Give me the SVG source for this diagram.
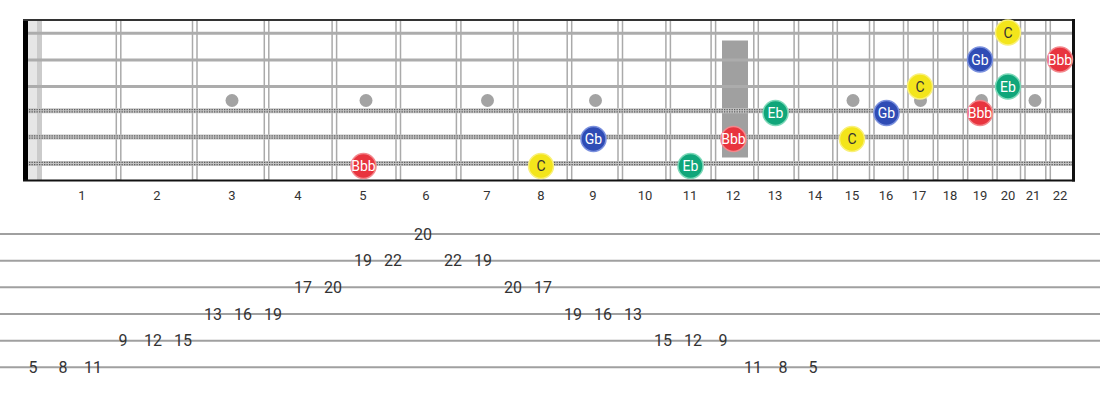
<svg xmlns="http://www.w3.org/2000/svg" width="1100" height="400" viewBox="0 0 1100 400">
<style>
.fret{fill:#fff;stroke:#aaaaaa;stroke-width:1.5}
.dot{fill:#a3a3a3}
.plain{stroke:#acacac;stroke-width:3}
.wbase{stroke:#c4c4c4;stroke-width:5}
.wtex{stroke:#5e5e5e;stroke-width:1.3;stroke-dasharray:1.3 1.2}
.fnum{font-family:Roboto,"Liberation Sans",sans-serif;font-size:13px;fill:#333;text-anchor:middle}
.tabline{stroke:#a0a0a0;stroke-width:2}
.tab{font-family:Roboto,"Liberation Sans",sans-serif;font-size:16px;fill:#333;text-anchor:middle}
.nt{font-family:Roboto,"Liberation Sans",sans-serif;font-size:14px;text-anchor:middle;fill:#fff}
.nt.dk{fill:#333}
.bbb{fill:#e8343e;stroke:#f3888d;stroke-width:1.5}
.gb{fill:#2f4cb5;stroke:#7b91de;stroke-width:1.5}
.eb{fill:#10a67a;stroke:#7cd8b8;stroke-width:1.5}
.c{fill:#f3e51b;stroke:#f9f07a;stroke-width:1.5}
</style>
<rect width="1100" height="400" fill="#fff"/>
<g id="fretboard">
  <rect x="28" y="20" width="9" height="160" fill="#e6e6e6"/>
  <rect x="37" y="20" width="5" height="160" fill="#cbcbcb"/>
  <g id="frets">
    <rect class="fret" x="116.3" y="20" width="4.5" height="160"/>
    <rect class="fret" x="192.5" y="20" width="4.5" height="160"/>
    <rect class="fret" x="264.3" y="20" width="4.5" height="160"/>
    <rect class="fret" x="332.1" y="20" width="4.5" height="160"/>
    <rect class="fret" x="396" y="20" width="4.5" height="160"/>
    <rect class="fret" x="456.4" y="20" width="4.5" height="160"/>
    <rect class="fret" x="513.4" y="20" width="4.5" height="160"/>
    <rect class="fret" x="567.2" y="20" width="4.5" height="160"/>
    <rect class="fret" x="618" y="20" width="4.5" height="160"/>
    <rect class="fret" x="665.9" y="20" width="4.5" height="160"/>
    <rect class="fret" x="711.1" y="20" width="4.5" height="160"/>
    <rect class="fret" x="753.8" y="20" width="4.5" height="160"/>
    <rect class="fret" x="794.1" y="20" width="4.5" height="160"/>
    <rect class="fret" x="832.8" y="20" width="4.5" height="160"/>
    <rect class="fret" x="869.5" y="20" width="4.5" height="160"/>
    <rect class="fret" x="903.5" y="20" width="4.5" height="160"/>
    <rect class="fret" x="933.3" y="20" width="4.5" height="160"/>
    <rect class="fret" x="963.2" y="20" width="4.5" height="160"/>
    <rect class="fret" x="992.6" y="20" width="4.5" height="160"/>
    <rect class="fret" x="1020.5" y="20" width="4.5" height="160"/>
    <rect class="fret" x="1045.8" y="20" width="4.5" height="160"/>
  </g>
  <g id="inlays">
    <circle class="dot" cx="232" cy="100.5" r="6.5"/>
    <circle class="dot" cx="366" cy="100.5" r="6.5"/>
    <circle class="dot" cx="487.5" cy="100.5" r="6.5"/>
    <circle class="dot" cx="595.5" cy="100.5" r="6.5"/>
    <rect x="722" y="40.5" width="26" height="117" fill="#a0a0a0"/>
    <circle class="dot" cx="853" cy="100.5" r="6.5"/>
    <circle class="dot" cx="920.5" cy="100.5" r="6.5"/>
    <circle class="dot" cx="981.5" cy="100.5" r="6.5"/>
    <circle class="dot" cx="1035" cy="100.5" r="6.5"/>
  </g>
  <g id="strings">
    <line class="plain" x1="24" y1="33.3" x2="1073" y2="33.3"/>
    <line class="plain" x1="24" y1="60" x2="1073" y2="60"/>
    <line class="plain" x1="24" y1="86.5" x2="1073" y2="86.5"/>
    <line class="wbase" x1="24" y1="110.7" x2="1073" y2="110.7"/>
    <line class="wtex" x1="24" y1="109.6" x2="1073" y2="109.6"/>
    <line class="wtex" x1="24" y1="111.9" x2="1073" y2="111.9"/>
    <line class="wbase" x1="24" y1="137" x2="1073" y2="137"/>
    <line class="wtex" x1="24" y1="135.9" x2="1073" y2="135.9"/>
    <line class="wtex" x1="24" y1="138.2" x2="1073" y2="138.2"/>
    <line class="wbase" x1="24" y1="163.5" x2="1073" y2="163.5"/>
    <line class="wtex" x1="24" y1="162.4" x2="1073" y2="162.4"/>
    <line class="wtex" x1="24" y1="164.7" x2="1073" y2="164.7"/>
  </g>
  <rect x="23" y="19.5" width="5" height="161.5" fill="#000"/>
  <line x1="23" y1="20" x2="1075" y2="20" stroke="#333" stroke-width="2"/>
  <line x1="23" y1="180.5" x2="1075" y2="180.5" stroke="#111" stroke-width="2"/>
  <line x1="1073.5" y1="19" x2="1073.5" y2="181.5" stroke="#111" stroke-width="3"/>
  <g id="fret-numbers">
    <text class="fnum" x="82" y="199.5">1</text>
    <text class="fnum" x="157" y="199.5">2</text>
    <text class="fnum" x="232" y="199.5">3</text>
    <text class="fnum" x="298" y="199.5">4</text>
    <text class="fnum" x="363" y="199.5">5</text>
    <text class="fnum" x="426" y="199.5">6</text>
    <text class="fnum" x="487" y="199.5">7</text>
    <text class="fnum" x="541" y="199.5">8</text>
    <text class="fnum" x="593" y="199.5">9</text>
    <text class="fnum" x="645" y="199.5">10</text>
    <text class="fnum" x="690" y="199.5">11</text>
    <text class="fnum" x="733" y="199.5">12</text>
    <text class="fnum" x="775" y="199.5">13</text>
    <text class="fnum" x="815" y="199.5">14</text>
    <text class="fnum" x="852" y="199.5">15</text>
    <text class="fnum" x="886" y="199.5">16</text>
    <text class="fnum" x="919" y="199.5">17</text>
    <text class="fnum" x="950" y="199.5">18</text>
    <text class="fnum" x="980" y="199.5">19</text>
    <text class="fnum" x="1008" y="199.5">20</text>
    <text class="fnum" x="1033" y="199.5">21</text>
    <text class="fnum" x="1060" y="199.5">22</text>
  </g>
</g>
<g id="notes">
  <g id="n-s6-f5"><circle class="bbb" cx="363.5" cy="166" r="12.5"/><text class="nt" x="363.5" y="171">Bbb</text></g>
  <g id="n-s6-f8"><circle class="c" cx="541" cy="166" r="12.5"/><text class="nt dk" x="541" y="171">C</text></g>
  <g id="n-s6-f11"><circle class="eb" cx="690.5" cy="166" r="12.5"/><text class="nt" x="690.5" y="171">Eb</text></g>
  <g id="n-s5-f9"><circle class="gb" cx="593.5" cy="139" r="12.5"/><text class="nt" x="593.5" y="144">Gb</text></g>
  <g id="n-s5-f12"><circle class="bbb" cx="733.5" cy="139" r="12.5"/><text class="nt" x="733.5" y="144">Bbb</text></g>
  <g id="n-s5-f15"><circle class="c" cx="852" cy="139" r="12.5"/><text class="nt dk" x="852" y="144">C</text></g>
  <g id="n-s4-f13"><circle class="eb" cx="775.5" cy="113" r="12.5"/><text class="nt" x="775.5" y="118">Eb</text></g>
  <g id="n-s4-f16"><circle class="gb" cx="886.5" cy="113" r="12.5"/><text class="nt" x="886.5" y="118">Gb</text></g>
  <g id="n-s4-f19"><circle class="bbb" cx="980" cy="113" r="12.5"/><text class="nt" x="980" y="118">Bbb</text></g>
  <g id="n-s3-f17"><circle class="c" cx="920" cy="86.5" r="12.5"/><text class="nt dk" x="920" y="91.5">C</text></g>
  <g id="n-s3-f20"><circle class="eb" cx="1008" cy="86.5" r="12.5"/><text class="nt" x="1008" y="91.5">Eb</text></g>
  <g id="n-s2-f19"><circle class="gb" cx="980" cy="59.5" r="12.5"/><text class="nt" x="980" y="64.5">Gb</text></g>
  <g id="n-s2-f22"><circle class="bbb" cx="1060" cy="59.5" r="12.5"/><text class="nt" x="1060" y="64.5">Bbb</text></g>
  <g id="n-s1-f20"><circle class="c" cx="1008" cy="32.5" r="12.5"/><text class="nt dk" x="1008" y="37.5">C</text></g>
</g>
<g id="tab">
  <line class="tabline" x1="0" y1="234" x2="1100" y2="234"/>
  <line class="tabline" x1="0" y1="260.7" x2="1100" y2="260.7"/>
  <line class="tabline" x1="0" y1="287.3" x2="1100" y2="287.3"/>
  <line class="tabline" x1="0" y1="314" x2="1100" y2="314"/>
  <line class="tabline" x1="0" y1="340.7" x2="1100" y2="340.7"/>
  <line class="tabline" x1="0" y1="367.3" x2="1100" y2="367.3"/>
  <text class="tab" x="33" y="373">5</text>
  <text class="tab" x="63" y="373">8</text>
  <text class="tab" x="93" y="373">11</text>
  <text class="tab" x="123" y="346.4">9</text>
  <text class="tab" x="153" y="346.4">12</text>
  <text class="tab" x="183" y="346.4">15</text>
  <text class="tab" x="213" y="319.7">13</text>
  <text class="tab" x="243" y="319.7">16</text>
  <text class="tab" x="273" y="319.7">19</text>
  <text class="tab" x="303" y="293">17</text>
  <text class="tab" x="333" y="293">20</text>
  <text class="tab" x="363" y="266.4">19</text>
  <text class="tab" x="393" y="266.4">22</text>
  <text class="tab" x="423" y="239.7">20</text>
  <text class="tab" x="453" y="266.4">22</text>
  <text class="tab" x="483" y="266.4">19</text>
  <text class="tab" x="513" y="293">20</text>
  <text class="tab" x="543" y="293">17</text>
  <text class="tab" x="573" y="319.7">19</text>
  <text class="tab" x="603" y="319.7">16</text>
  <text class="tab" x="633" y="319.7">13</text>
  <text class="tab" x="663" y="346.4">15</text>
  <text class="tab" x="693" y="346.4">12</text>
  <text class="tab" x="723" y="346.4">9</text>
  <text class="tab" x="753" y="373">11</text>
  <text class="tab" x="783" y="373">8</text>
  <text class="tab" x="813" y="373">5</text>
</g>
</svg>
